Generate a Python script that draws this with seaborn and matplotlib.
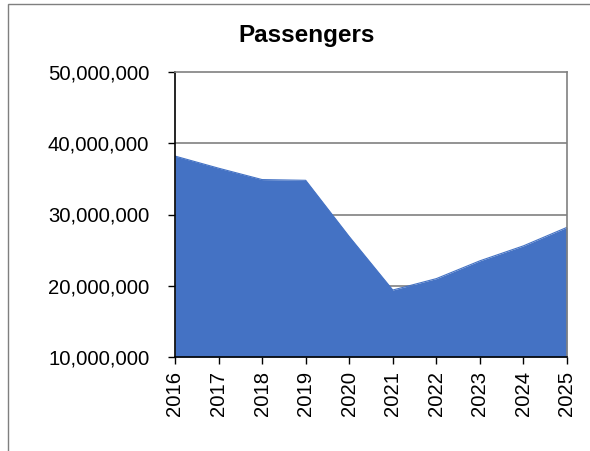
# area chart of yearly passengers
import matplotlib
matplotlib.use('Agg')
import numpy as np
import pandas as pd
import matplotlib.pyplot as plt
import seaborn as sns
from matplotlib.patches import Rectangle
from matplotlib.ticker import FuncFormatter

years = [2016, 2017, 2018, 2019, 2020, 2021, 2022, 2023, 2024, 2025]
passengers = [38200000, 36500000, 34900000, 34800000, 26900000,
              19400000, 21000000, 23500000, 25600000, 28200000]
yticks = [10000000, 20000000, 30000000, 40000000, 50000000]

df = pd.DataFrame({'Year': years, 'Passengers': passengers})

sns.set_theme(style='white')
plt.rcParams['font.family'] = ['Liberation Sans', 'DejaVu Sans']

fig = plt.figure(figsize=(5.9, 4.51), dpi=100)
ax = fig.add_axes([175 / 590, 1 - 357 / 451, 392 / 590, 285 / 451])

ax.fill_between(df['Year'], df['Passengers'], yticks[0], color='#4472C4',
                linewidth=0, zorder=3)
sns.lineplot(data=df, x='Year', y='Passengers', ax=ax, color='#4472C4',
             linewidth=0.8, zorder=3)

ax.set_xlim(years[0], years[-1])
ax.set_ylim(yticks[0], yticks[-1])
ax.set_xticks(years)
ax.set_xticklabels([str(y) for y in years], rotation=90)
ax.set_yticks(yticks)
ax.yaxis.set_major_formatter(FuncFormatter(lambda v, p: f'{int(v):,}'))
ax.set_xlabel('')
ax.set_ylabel('')

for v in yticks[1:-1]:
    ax.axhline(v, color='#808080', linewidth=1.2, zorder=1)

ax.spines['left'].set_color('black')
ax.spines['bottom'].set_color('black')
ax.spines['top'].set_color('#808080')
ax.spines['right'].set_color('#808080')
for s in ax.spines.values():
    s.set_linewidth(1.2)
    s.set_visible(True)
    s.set_zorder(4)

ax.tick_params(axis='both', which='major', direction='out', length=5,
               width=1, color='black', labelsize=14.6, labelcolor='black',
               bottom=True, left=True)
ax.tick_params(axis='y', pad=13.5)
ax.tick_params(axis='x', pad=5)

fig.text(307 / 590, 1 - 41.7 / 451, 'Passengers', ha='center', va='baseline',
         fontsize=17.5, fontweight='bold', color='black')

# outer chart frame (cropped on right and bottom)
fig.patches.append(Rectangle((8 / 590, -0.2), 1.2, 1.2 - 4 / 451,
                             transform=fig.transFigure, fill=False,
                             edgecolor='#7f7f7f', linewidth=1, zorder=0))

fig.savefig('out.png', dpi=100)
